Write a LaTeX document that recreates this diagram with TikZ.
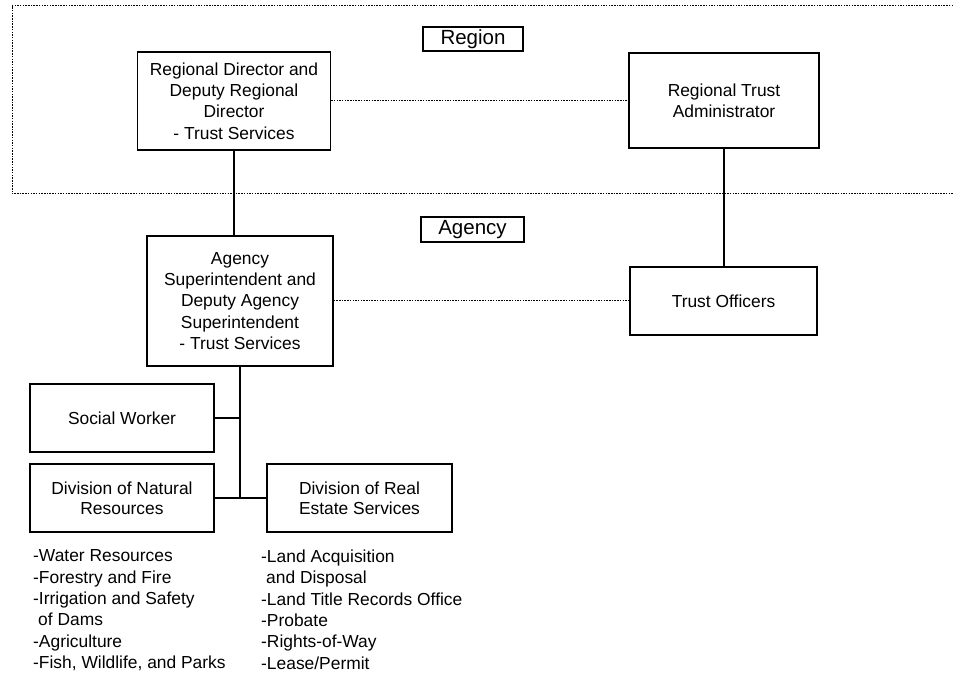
\documentclass[tikz,border=0pt]{standalone}
\usepackage{fontspec}
\setmainfont{Liberation Sans}
\begin{document}
\begin{tikzpicture}[x=1pt,y=-1pt,
  box/.style={draw, line width=1.3pt, rectangle, inner sep=0pt, align=center,
    font=\fontsize{17.4}{21.4}\selectfont},
  lbl/.style={draw, line width=1.1pt, rectangle, inner sep=0pt,
    font=\fontsize{20.5}{24}\selectfont},
  solidline/.style={line width=1.6pt},
  dotline/.style={line width=1pt, dash pattern=on 1.5pt off 1.2pt},
  listtext/.style={align=left, inner sep=0pt, anchor=north west,
    font=\fontsize{17.4}{21.4}\selectfont}]
\useasboundingbox (0,0) rectangle (953,676);

% region frame (open on the right)
\coordinate (fa) at (953,6);
\coordinate (fb) at (12,6);
\coordinate (fc) at (12,194);
\coordinate (fd) at (953,194);
\draw[dotline] (fa) -- (fb) -- (fc) -- (fd);

% labels
\node[lbl, minimum width=100pt, minimum height=24pt] (region) at (473,39) {Region};
\node[lbl, minimum width=103pt, minimum height=25pt] (agencylbl) at (472.5,229.5) {Agency};

% boxes
\node[box, minimum width=193pt, minimum height=98pt] (rd) at (234,101)
  {Regional Director and\\Deputy Regional\\Director\\- Trust Services};
\node[box, minimum width=190pt, minimum height=95pt] (rta) at (724,100.5)
  {Regional Trust\\Administrator};
\node[box, minimum width=186pt, minimum height=130pt] (agy) at (240,301)
  {Agency\\Superintendent and\\Deputy Agency\\Superintendent\\- Trust Services};
\node[box, minimum width=187pt, minimum height=68pt] (to) at (723.5,301)
  {Trust Officers};
\node[box, minimum width=184pt, minimum height=68pt] (sw) at (122,418)
  {Social Worker};
\node[box, minimum width=184pt, minimum height=68pt, font=\fontsize{17.4}{20}\selectfont] (dnr) at (122,498)
  {Division of Natural\\Resources};
\node[box, minimum width=185pt, minimum height=68pt, font=\fontsize{17.4}{20}\selectfont] (dres) at (359.5,498)
  {Division of Real\\Estate Services};

% lists
\node[listtext] (nrlist) at (33,549.5)
  {-Water Resources\\-Forestry and Fire\\-Irrigation and Safety\\\hspace*{5pt}of Dams\\-Agriculture\\-Fish, Wildlife, and Parks};
\node[listtext] (relist) at (261,549.5)
  {-Land Acquisition\\\hspace*{5pt}and Disposal\\-Land Title Records Office\\-Probate\\-Rights-of-Way\\-Lease/Permit};

% connectors
\draw[dotline] (rd.east) -- (rd.east -| rta.west);
\draw[dotline] (agy.east) -- (agy.east -| to.west);
\draw[solidline] (rd.south) -- (rd.south |- agy.north);
\draw[solidline] (rta.south) -- (rta.south |- to.north);
\coordinate (trunk) at (agy.south |- dnr.east);
\draw[solidline] (agy.south) -- (trunk);
\draw[solidline] (sw.east) -- (sw.east -| agy.south);
\draw[solidline] (dnr.east) -- (dres.west);
\end{tikzpicture}
\end{document}
